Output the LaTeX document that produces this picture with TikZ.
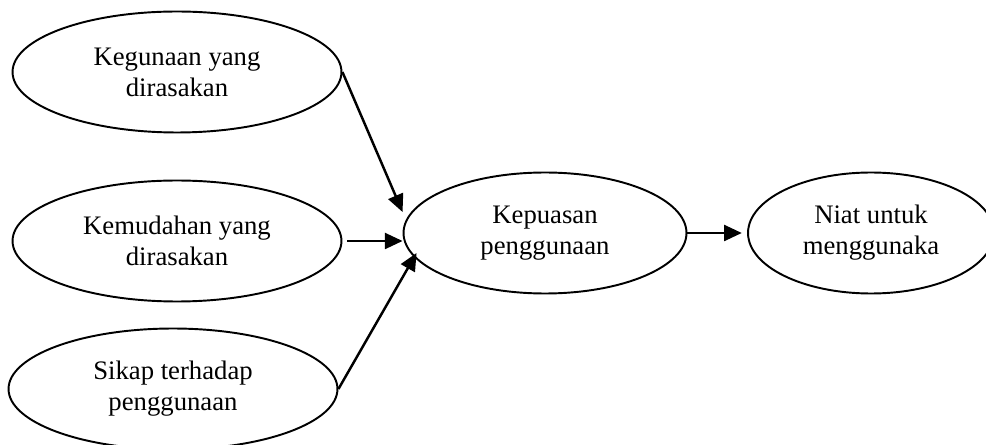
\documentclass[tikz,border=0pt]{standalone}
\usepackage{fontspec}
\setmainfont{Liberation Serif}
\usepackage{tikz}
\usetikzlibrary{shapes.geometric,arrows.meta,positioning}

\begin{document}
\begin{tikzpicture}[x=0.02cm,y=-0.02cm,
    factor/.style={ellipse,draw,line width=1.1pt,minimum width=6.58cm,minimum height=2.42cm,
      align=center,font=\fontsize{15.2}{17.6}\selectfont,inner sep=0pt},
    arrow/.style={-{Triangle[length=10pt,width=9pt]},line width=1.4pt}]
      \useasboundingbox (0,0) rectangle (986,445);
      \node[factor] (guna) at (177,72) {Kegunaan yang\\dirasakan};
      \node[factor] (mudah) at (177,241) {Kemudahan yang\\dirasakan};
      \node[factor] (sikap) at (173,389) {Sikap terhadap\\penggunaan};
      \node[factor,minimum width=5.66cm] (puas) at (545,233) {Kepuasan\\penggunaan};
      \node[factor,minimum width=4.92cm] (niat) at (871,233) {Niat untuk\\menggunaka};
      \path[arrow]
      (guna.east) edge ([yshift=0.42cm]puas.west)
      ([xshift=0.1cm]mudah.east) edge (mudah.east -| puas.west)
      (sikap.east) edge ([xshift=0.28cm,yshift=-0.4cm]puas.west)
      (puas.east) edge [shorten >=3pt] (niat.west);
    \end{tikzpicture}
\end{document}
